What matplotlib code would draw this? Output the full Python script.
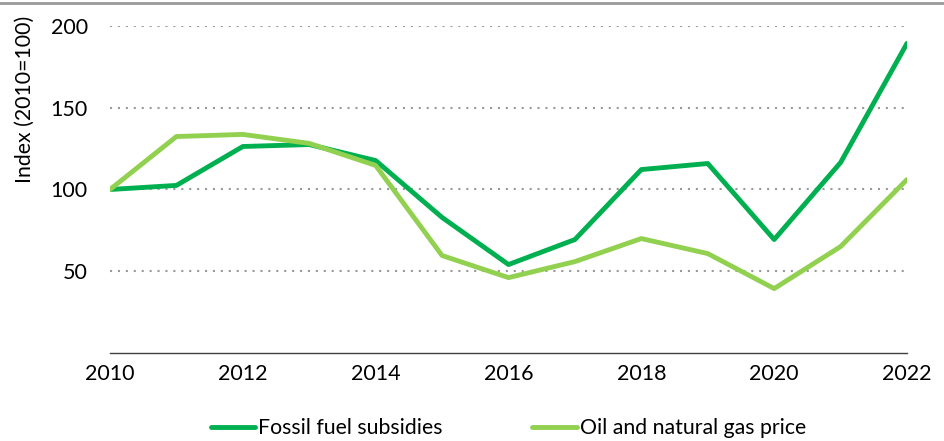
import matplotlib.pyplot as plt
from matplotlib.lines import Line2D

years = list(range(2010, 2023))
fossil_subsidies = [100, 102.5, 126.3, 127.5, 117.7, 82.9, 54.1, 69.4, 112.2, 115.9, 69.4, 116.5, 189.4]
oil_gas_price = [100, 132.4, 133.7, 128.2, 114.7, 59.6, 46.1, 55.9, 70.0, 60.8, 39.4, 65.1, 106.1]
y_ticks = [50, 100, 150, 200]
x_ticks = [2010, 2012, 2014, 2016, 2018, 2020, 2022]

plt.rcParams['font.family'] = ['Lato', 'DejaVu Sans']

fig = plt.figure(figsize=(9.45, 4.41), dpi=100)
ax = fig.add_axes([110 / 945, 1 - 353 / 441, 797 / 945, 327 / 441])

ax.plot(years, fossil_subsidies, color='#00B050', lw=3.5, solid_capstyle='round',
        solid_joinstyle='round', label='Fossil fuel subsidies', zorder=3)
ax.plot(years, oil_gas_price, color='#92D050', lw=3.5, solid_capstyle='round',
        solid_joinstyle='round', label='Oil and natural gas price', zorder=3)

ax.set_xlim(2010, 2022)
ax.set_ylim(0, 200)
ax.set_xticks(x_ticks)
ax.set_yticks(y_ticks)
ax.tick_params(length=0, labelsize=15.5, colors='black')
ax.tick_params(axis='y', pad=16)
ax.tick_params(axis='x', pad=8)
ax.yaxis.grid(True, color='#999999', linestyle=(0, (1, 2.8)), lw=1.5)
ax.set_axisbelow(True)
for side in ['top', 'right', 'left']:
    ax.spines[side].set_visible(False)
ax.spines['bottom'].set_color('#404040')
ax.spines['bottom'].set_linewidth(1)

fig.text(25 / 945, 1 - 99 / 441, 'Index (2010=100)', rotation=90, fontsize=15.3,
         ha='center', va='center')

ax.legend(loc='center', bbox_to_anchor=(0.5, (353 - 428) / 327), ncol=2, frameon=False,
          fontsize=15.3, handlelength=2.1, handletextpad=0.15, columnspacing=4.2,
          borderaxespad=0, borderpad=0)

# thin grey rule across the top
fig.add_artist(Line2D([0, 1], [1 - 3 / 441, 1 - 3 / 441], color='#999999', lw=2,
                      transform=fig.transFigure))

fig.savefig('out.png', dpi=100)
